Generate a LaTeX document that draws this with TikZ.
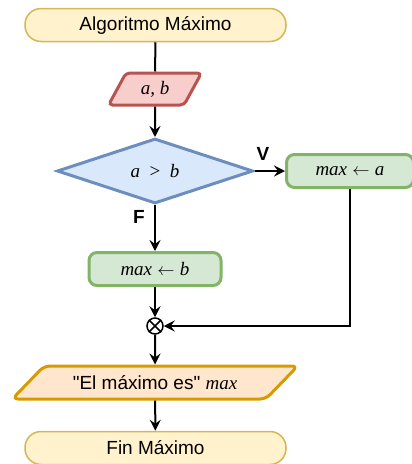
\documentclass[tikz,border=0pt]{standalone}
\usepackage{fontspec}
\setmainfont{Liberation Sans}[Ligatures=TeXOff]
\newfontfamily\serifvar{Liberation Serif}
\usepackage{tikz}
\usetikzlibrary{arrows.meta,shapes.geometric,positioning,calc}

\definecolor{termfill}{HTML}{FFF2CC}
\definecolor{termline}{HTML}{D6B656}
\definecolor{iofill}{HTML}{F8CECC}
\definecolor{ioline}{HTML}{B85450}
\definecolor{condfill}{HTML}{DAE8FC}
\definecolor{condline}{HTML}{6C8EBF}
\definecolor{procfill}{HTML}{D5E8D4}
\definecolor{procline}{HTML}{82B366}
\definecolor{outfill}{HTML}{FFE6CC}
\definecolor{outline}{HTML}{D79B00}

\newcommand{\vname}[1]{{\serifvar\itshape #1}}

\tikzset{
  terminal/.style={draw=termline, fill=termfill, line width=1.5pt, rounded corners=16pt,
                   minimum width=261pt, minimum height=33pt, inner sep=0pt},
  process/.style={draw=procline, fill=procfill, line width=3pt, rounded corners=8pt,
                  minimum height=33pt, inner sep=0pt},
  flow/.style={line width=2pt},
  flowarrow/.style={line width=2pt, -{Stealth[length=11pt,width=11pt,inset=4pt]}}
}

\begin{document}
\begin{tikzpicture}[x=1pt,y=-1pt,font=\fontsize{19}{22}\selectfont]
  \useasboundingbox (0,0) rectangle (412,464);

  \node[terminal] (start) at (155.5,25) {Algoritmo Máximo};
  \node[trapezium, trapezium left angle=62, trapezium right angle=118, trapezium stretches=true,
        draw=ioline, fill=iofill, line width=3pt, rounded corners=4pt,
        minimum width=93pt, minimum height=32pt, inner sep=0pt] (input) at (155,89) {\vname{a, b}};
  \node[diamond, draw=condline, fill=condfill, line width=3pt,
        minimum width=196pt, minimum height=65pt, inner sep=0pt] (cond) at (155,171)
        {\serifvar\itshape a\enspace\upshape>\enspace\itshape b};
  \node[process, minimum width=127pt] (maxa) at (350,171) {\vname{max} $\leftarrow$ \vname{a}};
  \node[process, minimum width=132pt] (maxb) at (155,269) {\vname{max} $\leftarrow$ \vname{b}};
  \node[circle, draw, line width=1.5pt, minimum size=16pt, inner sep=0pt] (join) at (155,326) {};
  \draw[line width=1.5pt] (join.45) -- (join.225) (join.135) -- (join.315);
  \node[trapezium, trapezium left angle=31, trapezium right angle=149, trapezium stretches=true,
        draw=outline, fill=outfill, line width=3pt, rounded corners=6pt,
        minimum width=286pt, minimum height=33pt, inner sep=0pt] (output) at (155,382.5)
        {"El máximo es" \vname{max}};
  \node[terminal] (finish) at (155.5,448) {Fin Máximo};

  \draw[flow] (start) -- (input);
  \draw[flowarrow] (input) -- (cond);
  \draw[flowarrow] (cond.east) -- node[pos=0.28, anchor=south, yshift=6pt] {\textbf{V}} (maxa.west);
  \draw[flowarrow] (cond.south) -- node[pos=0.27, anchor=east, xshift=-6pt] {\textbf{F}} (maxb.north);
  \draw[flowarrow] (maxb) -- (join);
  \draw[flowarrow] (maxa.south) |- (join.east);
  \draw[flowarrow] (join) -- (output);
  \draw[flowarrow] (output) -- (finish);
\end{tikzpicture}
\end{document}
